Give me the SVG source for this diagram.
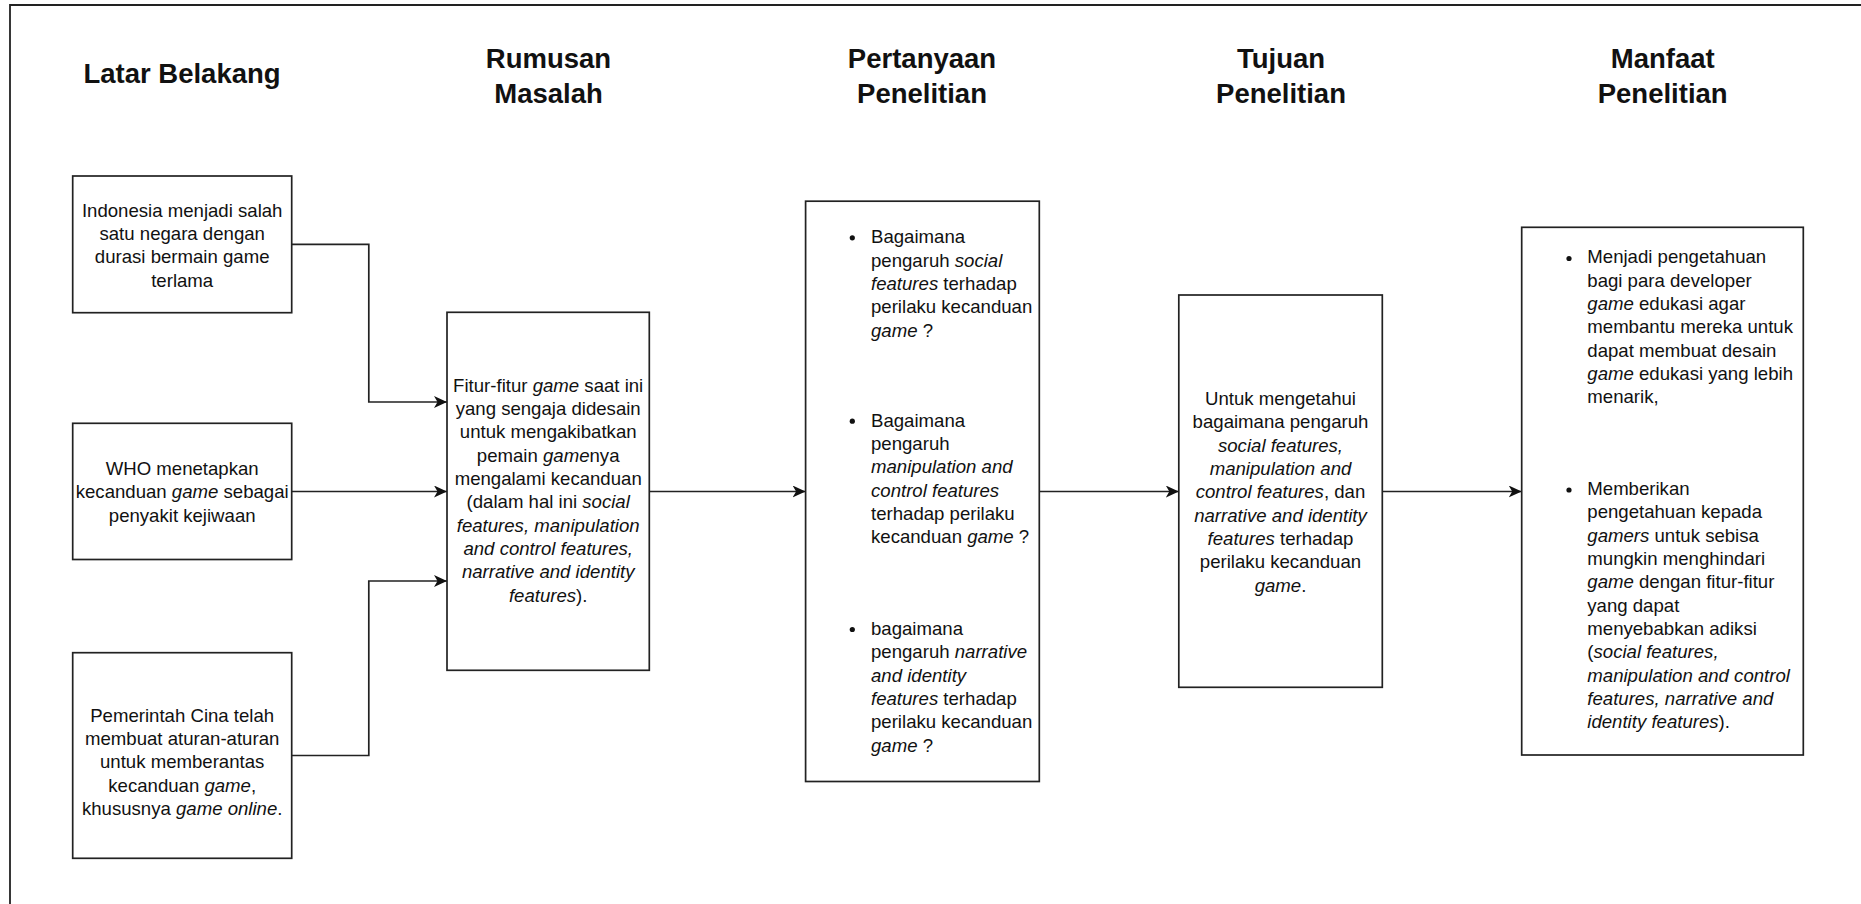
<svg xmlns="http://www.w3.org/2000/svg" width="1861" height="904" viewBox="0 0 1861 904">
<style>
text{font-family:"Liberation Sans",Arial,Helvetica,sans-serif;fill:#111;}
.t{font-size:27.5px;font-weight:bold;text-anchor:middle;}
.b{font-size:18.6px;}
.c{text-anchor:middle;}
.i{font-style:italic;}
.box{fill:#fff;stroke:#222;stroke-width:1.7;}
.ln{fill:none;stroke:#222;stroke-width:1.7;}
.dot{fill:#111;}
</style>
<defs>
<marker id="arr" markerUnits="userSpaceOnUse" viewBox="0 0 13 12" refX="13" refY="6" markerWidth="13" markerHeight="12" orient="auto">
<path d="M0,0 L13,6 L0,12 L3.5,6 Z" fill="#111"/>
</marker>
</defs>
<rect width="1861" height="904" fill="#fff"/>
<path d="M10,910 V5 H1870" fill="none" stroke="#222" stroke-width="1.8"/>

<g id="titles">
<text class="t" x="182" y="83">Latar Belakang</text>
<text class="t" x="548.5" y="68">Rumusan</text>
<text class="t" x="548.5" y="103">Masalah</text>
<text class="t" x="922" y="68">Pertanyaan</text>
<text class="t" x="922" y="103">Penelitian</text>
<text class="t" x="1281" y="68">Tujuan</text>
<text class="t" x="1281" y="103">Penelitian</text>
<text class="t" x="1662.7" y="68">Manfaat</text>
<text class="t" x="1662.7" y="103">Penelitian</text>
</g>

<g id="connectors">
<path class="ln" d="M291.7,244.3 H368.8 V402 H447" marker-end="url(#arr)"/>
<path class="ln" d="M291.7,491.5 H447" marker-end="url(#arr)"/>
<path class="ln" d="M291.7,755.5 H368.8 V581 H447" marker-end="url(#arr)"/>
<path class="ln" d="M649.3,491.5 H805.6" marker-end="url(#arr)"/>
<path class="ln" d="M1039.3,491.5 H1178.8" marker-end="url(#arr)"/>
<path class="ln" d="M1382.3,491.5 H1521.7" marker-end="url(#arr)"/>
</g>

<g id="latar1">
<rect class="box" x="72.7" y="176" width="219" height="136.7"/>
<text class="b c" x="182.2" y="216.7">Indonesia menjadi salah</text>
<text class="b c" x="182.2" y="240">satu negara dengan</text>
<text class="b c" x="182.2" y="263.3">durasi bermain game</text>
<text class="b c" x="182.2" y="286.7">terlama</text>
</g>

<g id="latar2">
<rect class="box" x="72.7" y="423.3" width="219" height="136.2"/>
<text class="b c" x="182.2" y="475">WHO menetapkan</text>
<text class="b c" x="182.2" y="498.3">kecanduan <tspan class="i">game</tspan> sebagai</text>
<text class="b c" x="182.2" y="521.7">penyakit kejiwaan</text>
</g>

<g id="latar3">
<rect class="box" x="72.7" y="652.7" width="219" height="205.6"/>
<text class="b c" x="182.2" y="721.7">Pemerintah Cina telah</text>
<text class="b c" x="182.2" y="745">membuat aturan-aturan</text>
<text class="b c" x="182.2" y="768.3">untuk memberantas</text>
<text class="b c" x="182.2" y="791.7">kecanduan <tspan class="i">game</tspan>,</text>
<text class="b c" x="182.2" y="815">khususnya <tspan class="i">game online</tspan>.</text>
</g>

<g id="rumusan">
<rect class="box" x="447" y="312.3" width="202.3" height="358"/>
<text class="b c" x="548.2" y="391.7">Fitur-fitur <tspan class="i">game</tspan> saat ini</text>
<text class="b c" x="548.2" y="415">yang sengaja didesain</text>
<text class="b c" x="548.2" y="438.3">untuk mengakibatkan</text>
<text class="b c" x="548.2" y="461.7">pemain <tspan class="i">game</tspan>nya</text>
<text class="b c" x="548.2" y="485">mengalami kecanduan</text>
<text class="b c" x="548.2" y="508.3">(dalam hal ini <tspan class="i">social</tspan></text>
<text class="b c i" x="548.2" y="531.7">features, manipulation</text>
<text class="b c i" x="548.2" y="555">and control features,</text>
<text class="b c i" x="548.2" y="578.3">narrative and identity</text>
<text class="b c" x="548.2" y="601.7"><tspan class="i">features</tspan>).</text>
</g>

<g id="pertanyaan">
<rect class="box" x="805.6" y="201.2" width="233.7" height="580.3"/>
<circle class="dot" cx="852.3" cy="237.8" r="2.6"/>
<text class="b" x="871" y="243.3">Bagaimana</text>
<text class="b" x="871" y="266.7">pengaruh <tspan class="i">social</tspan></text>
<text class="b" x="871" y="290"><tspan class="i">features</tspan> terhadap</text>
<text class="b" x="871" y="313.3">perilaku kecanduan</text>
<text class="b" x="871" y="336.7"><tspan class="i">game</tspan> ?</text>
<circle class="dot" cx="852.3" cy="421.2" r="2.6"/>
<text class="b" x="871" y="426.7">Bagaimana</text>
<text class="b" x="871" y="450">pengaruh</text>
<text class="b i" x="871" y="473.3">manipulation and</text>
<text class="b i" x="871" y="496.7">control features</text>
<text class="b" x="871" y="520">terhadap perilaku</text>
<text class="b" x="871" y="543.3">kecanduan <tspan class="i">game</tspan> ?</text>
<circle class="dot" cx="852.3" cy="629.5" r="2.6"/>
<text class="b" x="871" y="635">bagaimana</text>
<text class="b" x="871" y="658.3">pengaruh <tspan class="i">narrative</tspan></text>
<text class="b i" x="871" y="681.7">and identity</text>
<text class="b" x="871" y="705"><tspan class="i">features</tspan> terhadap</text>
<text class="b" x="871" y="728.3">perilaku kecanduan</text>
<text class="b" x="871" y="751.7"><tspan class="i">game</tspan> ?</text>
</g>

<g id="tujuan">
<rect class="box" x="1178.8" y="295" width="203.5" height="392.3"/>
<text class="b c" x="1280.5" y="405">Untuk mengetahui</text>
<text class="b c" x="1280.5" y="428.3">bagaimana pengaruh</text>
<text class="b c i" x="1280.5" y="451.7">social features,</text>
<text class="b c i" x="1280.5" y="475">manipulation and</text>
<text class="b c" x="1280.5" y="498.3"><tspan class="i">control features</tspan>, dan</text>
<text class="b c i" x="1280.5" y="521.7">narrative and identity</text>
<text class="b c" x="1280.5" y="545"><tspan class="i">features</tspan> terhadap</text>
<text class="b c" x="1280.5" y="568.3">perilaku kecanduan</text>
<text class="b c" x="1280.5" y="591.7"><tspan class="i">game</tspan>.</text>
</g>

<g id="manfaat">
<rect class="box" x="1521.7" y="227.3" width="281.6" height="527.7"/>
<circle class="dot" cx="1569" cy="258.5" r="2.6"/>
<text class="b" x="1587.3" y="263.3">Menjadi pengetahuan</text>
<text class="b" x="1587.3" y="286.7">bagi para developer</text>
<text class="b" x="1587.3" y="310"><tspan class="i">game</tspan> edukasi agar</text>
<text class="b" x="1587.3" y="333.3">membantu mereka untuk</text>
<text class="b" x="1587.3" y="356.7">dapat membuat desain</text>
<text class="b" x="1587.3" y="380"><tspan class="i">game</tspan> edukasi yang lebih</text>
<text class="b" x="1587.3" y="403.3">menarik,</text>
<circle class="dot" cx="1569" cy="490" r="2.6"/>
<text class="b" x="1587.3" y="495">Memberikan</text>
<text class="b" x="1587.3" y="518.3">pengetahuan kepada</text>
<text class="b" x="1587.3" y="541.7"><tspan class="i">gamers</tspan> untuk sebisa</text>
<text class="b" x="1587.3" y="565">mungkin menghindari</text>
<text class="b" x="1587.3" y="588.3"><tspan class="i">game</tspan> dengan fitur-fitur</text>
<text class="b" x="1587.3" y="611.7">yang dapat</text>
<text class="b" x="1587.3" y="635">menyebabkan adiksi</text>
<text class="b" x="1587.3" y="658.3">(<tspan class="i">social features,</tspan></text>
<text class="b i" x="1587.3" y="681.7">manipulation and control</text>
<text class="b i" x="1587.3" y="705">features, narrative and</text>
<text class="b" x="1587.3" y="728.3"><tspan class="i">identity features</tspan>).</text>
</g>
</svg>
